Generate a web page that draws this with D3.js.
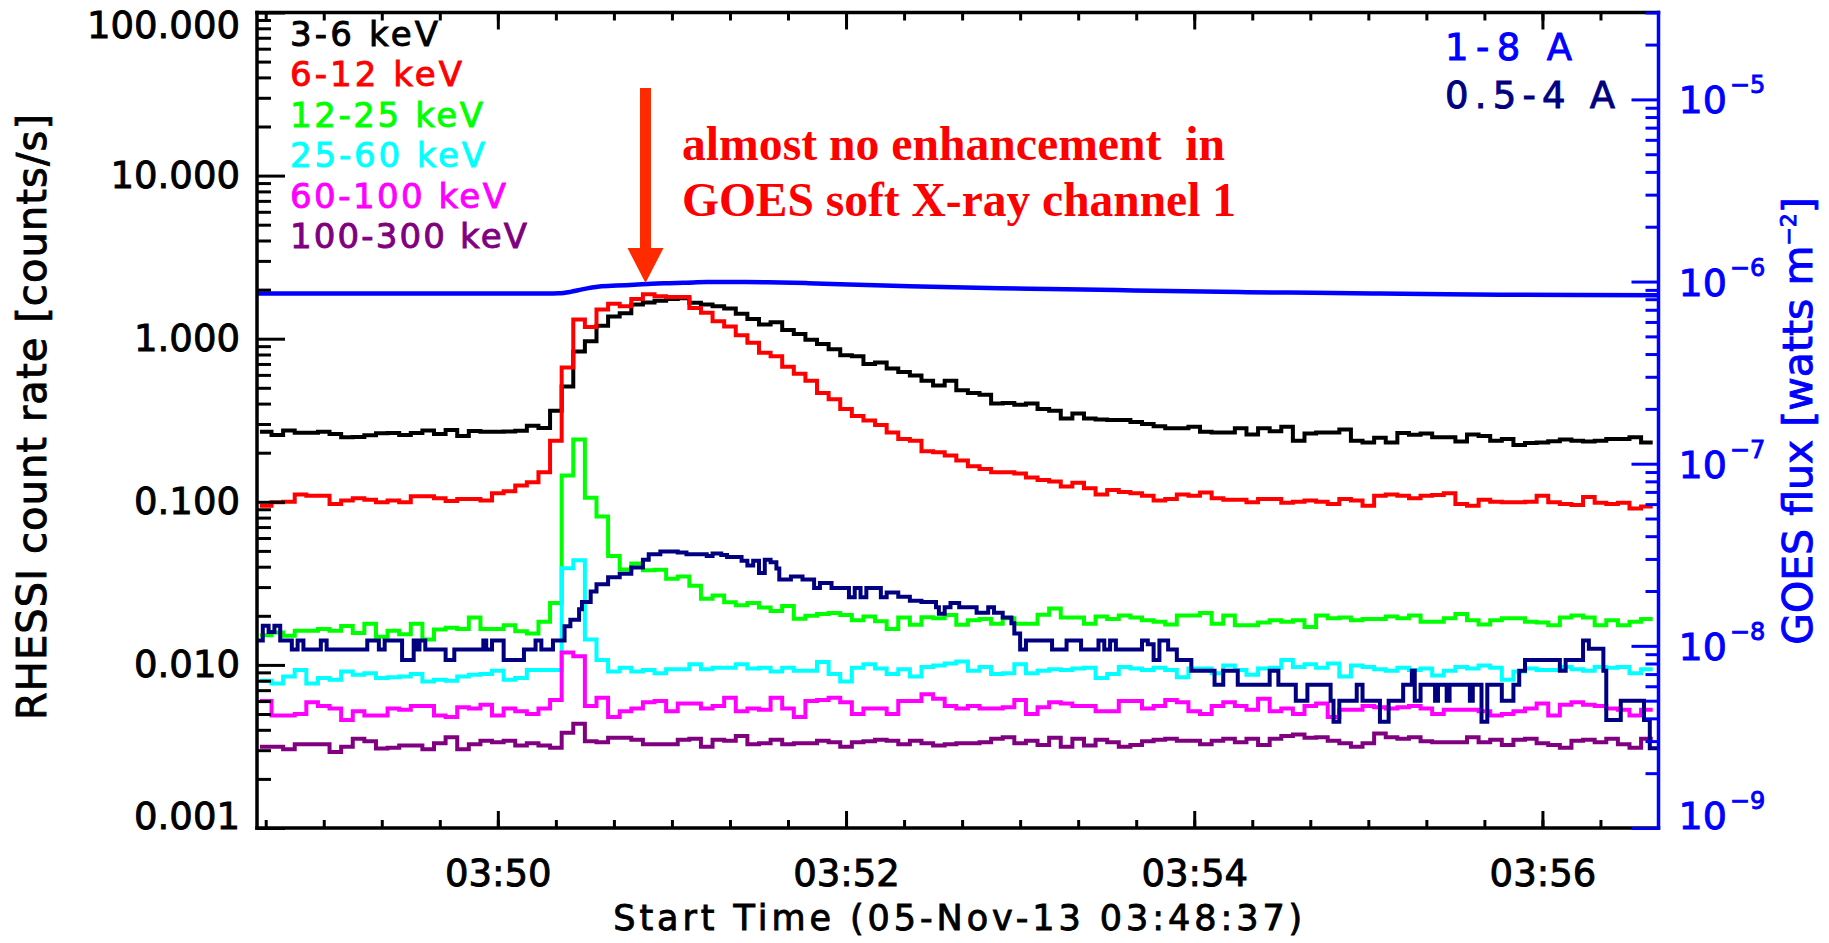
<!DOCTYPE html>
<html>
<head>
<meta charset="utf-8">
<script src="https://cdn.jsdelivr.net/npm/d3@7"></script>
<style>
  html, body { margin: 0; padding: 0; background: #ffffff; }
  svg { display: block; }
</style>
</head>
<body>
<svg id="chart" width="1829" height="943"></svg>
<script>
// ---------------------------------------------------------------------------
// RHESSI count rates (counts/s), 4-s bins, and GOES X-ray fluxes (W m^-2)
// 05-Nov-13, start 03:48:37 UT
// ---------------------------------------------------------------------------
const bandNames = ["3-6 keV", "6-12 keV", "12-25 keV", "25-60 keV", "60-100 keV", "100-300 keV"];
const goesNames = ["1-8 A", "0.5-4 A"];

const rate3to6 = [0.269,0.257,0.274,0.265,0.265,0.269,0.260,0.249,0.250,0.256,0.263,0.264,0.257,0.264,0.274,0.260,0.276,0.253,0.272,0.269,
  0.269,0.270,0.273,0.293,0.283,0.362,0.509,0.836,0.964,1.20,1.37,1.43,1.62,1.67,1.71,1.75,1.77,1.66,1.62,1.58,
  1.53,1.42,1.32,1.22,1.26,1.13,1.07,0.987,0.929,0.863,0.793,0.781,0.700,0.714,0.656,0.625,0.594,0.552,0.517,0.552,
  0.483,0.464,0.453,0.400,0.404,0.394,0.400,0.371,0.362,0.324,0.348,0.324,0.320,0.317,0.317,0.309,0.300,0.291,0.282,0.282,
  0.289,0.269,0.266,0.266,0.282,0.259,0.282,0.271,0.289,0.237,0.262,0.266,0.266,0.278,0.237,0.231,0.247,0.231,0.264,0.258,
  0.262,0.249,0.249,0.234,0.259,0.253,0.237,0.243,0.223,0.229,0.231,0.235,0.241,0.237,0.234,0.237,0.243,0.243,0.249,0.231];

const rate6to12 = [0.0946,0.0995,0.100,0.111,0.109,0.109,0.097,0.102,0.105,0.103,0.0995,0.102,0.0995,0.108,0.108,0.105,0.101,0.104,0.104,0.102,
  0.113,0.116,0.126,0.132,0.152,0.237,0.667,1.31,1.18,1.51,1.64,1.58,1.75,1.87,1.82,1.80,1.80,1.54,1.44,1.28,
  1.19,1.05,0.944,0.821,0.781,0.673,0.609,0.552,0.464,0.426,0.371,0.336,0.315,0.296,0.266,0.243,0.237,0.204,0.201,0.192,
  0.179,0.165,0.159,0.152,0.152,0.149,0.141,0.136,0.133,0.124,0.131,0.121,0.111,0.118,0.115,0.113,0.109,0.102,0.104,0.111,
  0.109,0.114,0.105,0.103,0.103,0.0995,0.104,0.104,0.0985,0.100,0.102,0.100,0.097,0.104,0.102,0.0946,0.109,0.111,0.109,0.105,
  0.109,0.110,0.113,0.097,0.0946,0.103,0.100,0.0995,0.0995,0.100,0.109,0.0995,0.097,0.0955,0.107,0.0985,0.097,0.0985,0.0909,0.0937];

const rate12to25 = [0.0152,0.0158,0.0151,0.0162,0.0162,0.0166,0.0162,0.0173,0.0157,0.0179,0.0149,0.0162,0.0154,0.0179,0.0143,0.0165,0.0169,0.0166,0.0195,0.0166,
  0.0166,0.0175,0.0161,0.0156,0.0184,0.0240,0.145,0.241,0.106,0.0812,0.0465,0.0385,0.0419,0.0381,0.0383,0.0337,0.0348,0.0306,0.0254,0.0266,
  0.0242,0.0232,0.0240,0.0225,0.0214,0.0230,0.0192,0.0200,0.0205,0.0208,0.0202,0.0188,0.0198,0.0185,0.0166,0.0195,0.0176,0.0196,0.0193,0.0202,
  0.0176,0.0188,0.0191,0.0179,0.0193,0.0179,0.0179,0.0203,0.0222,0.0195,0.0195,0.0179,0.0198,0.0191,0.0201,0.0195,0.0188,0.0184,0.0177,0.0201,
  0.0201,0.0208,0.0179,0.0201,0.0175,0.0175,0.0182,0.0188,0.0184,0.0188,0.0171,0.0201,0.0193,0.0195,0.0188,0.0191,0.0191,0.0198,0.0193,0.0201,
  0.0184,0.0184,0.0193,0.0205,0.0188,0.0177,0.0188,0.0193,0.0193,0.0184,0.0182,0.0175,0.0195,0.0201,0.0195,0.0175,0.0188,0.0175,0.0184,0.0191];

const rate25to60 = [0.0080,0.0077,0.0085,0.0093,0.0077,0.0083,0.0081,0.0091,0.0087,0.0089,0.0083,0.0084,0.0085,0.0088,0.0079,0.0081,0.0080,0.0085,0.0087,0.0088,
  0.0092,0.0081,0.0083,0.0093,0.0093,0.0093,0.0391,0.0438,0.0143,0.0107,0.0091,0.0096,0.0091,0.0093,0.0089,0.0094,0.0094,0.0101,0.0094,0.0096,
  0.0096,0.0101,0.0095,0.0096,0.0091,0.0096,0.0092,0.0092,0.0104,0.0088,0.0079,0.0096,0.0101,0.0095,0.0088,0.0094,0.0085,0.0097,0.0099,0.0102,
  0.0105,0.0092,0.0097,0.0088,0.0089,0.0101,0.0089,0.0092,0.0094,0.0093,0.0095,0.0096,0.0083,0.0088,0.0097,0.0095,0.0093,0.0096,0.0093,0.0084,
  0.0095,0.0095,0.0089,0.0099,0.0093,0.0087,0.0095,0.0096,0.0107,0.0097,0.0101,0.0096,0.0102,0.0085,0.0099,0.0097,0.0094,0.0092,0.0096,0.0093,
  0.0095,0.0086,0.0092,0.0097,0.0095,0.0099,0.0096,0.0081,0.0091,0.0095,0.0093,0.0093,0.0097,0.0094,0.0092,0.0097,0.0096,0.0097,0.0089,0.0094];

const rate60to100 = [0.0060,0.0049,0.0049,0.0050,0.0059,0.0056,0.0054,0.0046,0.0052,0.0049,0.0049,0.0054,0.0053,0.0056,0.0056,0.0049,0.0048,0.0055,0.0054,0.0057,
  0.0049,0.0054,0.0052,0.0050,0.0054,0.0061,0.0119,0.0113,0.0056,0.0063,0.0048,0.0052,0.0054,0.0059,0.0060,0.0052,0.0058,0.0058,0.0054,0.0056,
  0.0063,0.0052,0.0054,0.0053,0.0063,0.0054,0.0048,0.0060,0.0061,0.0063,0.0059,0.0050,0.0054,0.0054,0.0050,0.0060,0.0060,0.0066,0.0062,0.0056,
  0.0054,0.0056,0.0054,0.0054,0.0055,0.0061,0.0050,0.0055,0.0059,0.0058,0.0056,0.0056,0.0052,0.0052,0.0060,0.0060,0.0054,0.0056,0.0061,0.0059,
  0.0052,0.0050,0.0056,0.0059,0.0056,0.0053,0.0062,0.0052,0.0054,0.0050,0.0056,0.0058,0.0048,0.0053,0.0053,0.0056,0.0055,0.0054,0.0055,0.0056,
  0.0054,0.0050,0.0053,0.0053,0.0053,0.0052,0.0049,0.0050,0.0052,0.0054,0.0058,0.0049,0.0057,0.0059,0.0057,0.0056,0.0054,0.0053,0.0049,0.0053];

const rate100to300 = [0.00315,0.00315,0.00304,0.00326,0.00326,0.00326,0.00292,0.00315,0.00353,0.00340,0.00307,0.00310,0.00320,0.00320,0.00304,0.00331,0.00360,0.00304,0.00326,0.00343,
  0.00336,0.00343,0.00320,0.00331,0.00320,0.00310,0.00384,0.00435,0.00340,0.00336,0.00357,0.00357,0.00348,0.00326,0.00326,0.00326,0.00348,0.00353,0.00315,0.00348,
  0.00343,0.00366,0.00326,0.00331,0.00348,0.00326,0.00331,0.00331,0.00343,0.00336,0.00315,0.00336,0.00340,0.00348,0.00343,0.00326,0.00343,0.00331,0.00320,0.00326,
  0.00331,0.00331,0.00336,0.00353,0.00360,0.00331,0.00343,0.00323,0.00357,0.00315,0.00353,0.00320,0.00348,0.00336,0.00315,0.00323,0.00340,0.00348,0.00353,0.00343,
  0.00343,0.00326,0.00343,0.00353,0.00336,0.00353,0.00323,0.00353,0.00366,0.00375,0.00357,0.00360,0.00343,0.00331,0.00315,0.00331,0.00379,0.00360,0.00353,0.00360,
  0.00340,0.00336,0.00336,0.00336,0.00360,0.00336,0.00348,0.00323,0.00348,0.00353,0.00331,0.00323,0.00310,0.00343,0.00348,0.00336,0.00353,0.00326,0.00310,0.00353];

// GOES 1-8 A flux: seconds after 03:48:37, W m^-2
const goesLongSec = [0,50,100,104,108,112,118,124,130,136,142,148,155,165,176,190,204,222,240,256,273,296,320,341,364,387,410,433,456,483];
const goesLongFlux = [8.60e-7,8.60e-7,8.60e-7,8.62e-7,8.78e-7,9.06e-7,9.39e-7,9.51e-7,9.60e-7,9.73e-7,9.80e-7,9.86e-7,9.93e-7,9.95e-7,9.92e-7,
  9.80e-7,9.64e-7,9.46e-7,9.30e-7,9.20e-7,9.10e-7,8.98e-7,8.84e-7,8.74e-7,8.67e-7,8.59e-7,8.51e-7,8.47e-7,8.44e-7,8.40e-7];

// GOES 0.5-4 A flux: level changes (seconds after 03:48:37), W m^-2
const goesShortSec = [0,2,4,6,8,12,14,16,22,24,38,42,44,50,54,55,56,58,65,68,78,79,81,85,92,96,98,102,106,108,
  111,112,115,117,121,125,129,133,135,139,145,148,155,157,160,162,167,169,171,173,175,177,179,180,184,188,192,194,198,204,
  206,208,210,215,217,221,225,229,234,235,237,239,242,248,252,254,257,260,261,263,265,274,279,284,290,292,294,296,305,307,
  309,311,314,317,322,330,333,338,349,352,358,362,370,371,373,379,381,387,390,395,398,399,401,406,407,410,411,418,419,422,
  424,429,433,435,437,449,451,457,459,464,465,470,478,480];
const goesShortFlux = [1.07e-8,1.29e-8,1.19e-8,1.29e-8,1.07e-8,9.55e-9,1.07e-8,9.55e-9,1.07e-8,9.55e-9,1.07e-8,9.55e-9,1.07e-8,8.36e-9,1.07e-8,9.55e-9,1.07e-8,9.55e-9,8.36e-9,9.55e-9,
  1.07e-8,9.55e-9,1.07e-8,8.36e-9,9.55e-9,1.07e-8,9.55e-9,1.07e-8,1.28e-8,1.39e-8,
  1.59e-8,1.74e-8,1.99e-8,2.18e-8,2.38e-8,2.49e-8,2.69e-8,2.97e-8,3.18e-8,3.30e-8,3.25e-8,3.18e-8,3.11e-8,3.21e-8,3.15e-8,3.07e-8,2.93e-8,2.76e-8,2.93e-8,2.51e-8,
  2.97e-8,2.88e-8,2.66e-8,2.31e-8,2.40e-8,2.31e-8,2.08e-8,2.21e-8,2.08e-8,1.85e-8,
  2.08e-8,1.85e-8,2.08e-8,1.85e-8,1.96e-8,1.86e-8,1.77e-8,1.74e-8,1.63e-8,1.50e-8,1.63e-8,1.72e-8,1.63e-8,1.52e-8,1.63e-8,1.52e-8,1.43e-8,1.33e-8,1.17e-8,9.55e-9,
  1.07e-8,9.55e-9,1.07e-8,9.55e-9,1.07e-8,9.55e-9,1.07e-8,9.55e-9,1.07e-8,1.02e-8,
  8.36e-9,1.07e-8,9.55e-9,8.36e-9,7.31e-9,6.11e-9,7.31e-9,6.11e-9,7.31e-9,6.11e-9,5.00e-9,6.11e-9,5.00e-9,3.83e-9,5.00e-9,6.11e-9,5.00e-9,3.83e-9,5.00e-9,6.11e-9,
  7.31e-9,5.00e-9,6.11e-9,5.00e-9,6.11e-9,5.00e-9,6.11e-9,5.00e-9,6.11e-9,3.83e-9,
  6.11e-9,5.00e-9,6.11e-9,7.31e-9,8.36e-9,7.31e-9,8.36e-9,1.07e-8,9.64e-9,7.31e-9,3.92e-9,5.00e-9,3.92e-9,2.74e-9];

const countTicks = [0.001, 0.01, 0.1, 1, 10, 100];
const fluxTicks = [1e-9, 1e-8, 1e-7, 1e-6, 1e-5];
const fluxExponents = ["-9", "-8", "-7", "-6", "-5"];
const timeTickLabels = ["03:50", "03:52", "03:54", "03:56"];

const axisTitleX = "Start Time (05-Nov-13 03:48:37)";
const axisTitleLeft = "RHESSI count rate [counts/s]";
const noteLines = ["almost no enhancement  in", "GOES soft X-ray channel 1"];

// ---------------------------------------------------------------------------
// Layout and styling
// ---------------------------------------------------------------------------
const bandColors = ["#000000", "#ff0000", "#00ff00", "#00ffff", "#ff00ff", "#800080"];
const goesColors = ["#0000ff", "#000080"];
const FONT = "'DejaVu Sans', Verdana, sans-serif";
const TEXT_STROKE = 0.9;   // thickens the sans labels slightly
const box = { left: 257, right: 1658.5, top: 12.5, bottom: 828 };

const startMs = Date.UTC(2013, 10, 5, 3, 48, 37);
const spanSec = 483;
const binOffsetSec = 1, binSec = 4;
const sec = s => new Date(startMs + s * 1000);

const svg = d3.select("#chart");

const x = d3.scaleUtc().domain([sec(0), sec(spanSec)]).range([box.left, box.right]);
const y = d3.scaleLog().domain([0.001, 100]).range([box.bottom, box.top]);
const yFlux = d3.scaleLog().domain([1e-9, 3e-5]).range([box.bottom, box.top]);

svg.append("defs").append("clipPath").attr("id", "plotClip")
  .append("rect")
  .attr("x", box.left).attr("y", box.top)
  .attr("width", box.right - box.left).attr("height", box.bottom - box.top);

const plotArea = svg.append("g").attr("clip-path", "url(#plotClip)");

// RHESSI histograms
const rhessiSeries = [rate3to6, rate6to12, rate12to25, rate25to60, rate60to100, rate100to300];
const stepLine = d3.line().x(d => x(d[0])).y(d => y(d[1])).curve(d3.curveStepAfter);

rhessiSeries.forEach((vals, i) => {
  const pts = vals.map((v, k) => [sec(binOffsetSec + k * binSec), v]);
  pts.push([sec(binOffsetSec + vals.length * binSec), vals[vals.length - 1]]);
  plotArea.append("path")
    .datum(pts)
    .attr("d", stepLine)
    .attr("fill", "none")
    .attr("stroke", bandColors[i])
    .attr("stroke-width", 4)
    .attr("stroke-linejoin", "miter");
});

// GOES 1-8 A
const longPts = goesLongSec.map((s, i) => [sec(s), goesLongFlux[i]]);
plotArea.append("path")
  .datum(longPts)
  .attr("d", d3.line().x(d => x(d[0])).y(d => yFlux(d[1])).curve(d3.curveMonotoneX))
  .attr("fill", "none")
  .attr("stroke", goesColors[0])
  .attr("stroke-width", 4.5);

// GOES 0.5-4 A
const shortPts = goesShortSec.map((s, i) => [sec(s), goesShortFlux[i]]);
shortPts.push([sec(spanSec), goesShortFlux[goesShortFlux.length - 1]]);
plotArea.append("path")
  .datum(shortPts)
  .attr("d", d3.line().x(d => x(d[0])).y(d => yFlux(d[1])).curve(d3.curveStepAfter))
  .attr("fill", "none")
  .attr("stroke", goesColors[1])
  .attr("stroke-width", 4)
  .attr("stroke-linejoin", "miter");

// ---------------------------------------------------------------------------
// Frame and axes
// ---------------------------------------------------------------------------
const frame = svg.append("g").attr("stroke-width", 3.5).attr("stroke-linecap", "square");
frame.append("line").attr("x1", box.left).attr("x2", box.right).attr("y1", box.bottom).attr("y2", box.bottom).attr("stroke", "#000");
frame.append("line").attr("x1", box.left).attr("x2", box.right).attr("y1", box.top).attr("y2", box.top).attr("stroke", "#000");
frame.append("line").attr("x1", box.left).attr("x2", box.left).attr("y1", box.top).attr("y2", box.bottom).attr("stroke", "#000");

function styleAxis(g, color, width) {
  g.select(".domain").remove();
  g.attr("color", color);
  g.selectAll(".tick line").attr("stroke-width", width);
}
function styleLabels(sel, size) {
  sel.attr("font-family", FONT).attr("font-size", size)
     .attr("fill", "currentColor").attr("stroke", "currentColor").attr("stroke-width", TEXT_STROKE);
}

// time axis ticks
const majorTimes = timeTickLabels.map(s => {
  const [h, m] = s.split(":").map(Number);
  return new Date(Date.UTC(2013, 10, 5, h, m, 0));
});
const minorTimes = d3.utcSecond.every(20).range(sec(0), sec(spanSec));

svg.append("g").attr("transform", `translate(0,${box.bottom})`)
  .call(d3.axisBottom(x).tickValues(minorTimes).tickSize(-8).tickFormat(""))
  .call(g => styleAxis(g, "#000", 3));
svg.append("g").attr("transform", `translate(0,${box.bottom})`)
  .call(d3.axisBottom(x).tickValues(majorTimes).tickSize(-17).tickPadding(32)
        .tickFormat(d3.utcFormat("%H:%M")))
  .call(g => styleAxis(g, "#000", 3))
  .call(g => styleLabels(g.selectAll("text"), 37));

svg.append("g").attr("transform", `translate(0,${box.top})`)
  .call(d3.axisTop(x).tickValues(minorTimes).tickSize(-8).tickFormat(""))
  .call(g => styleAxis(g, "#000", 3));
svg.append("g").attr("transform", `translate(0,${box.top})`)
  .call(d3.axisTop(x).tickValues(majorTimes).tickSize(-17).tickFormat(""))
  .call(g => styleAxis(g, "#000", 3));

// count-rate axis
const countMinor = [];
countTicks.slice(0, -1).forEach(d => { for (let m = 2; m <= 9; m++) countMinor.push(d * m); });

svg.append("g").attr("transform", `translate(${box.left},0)`)
  .call(d3.axisLeft(y).tickValues(countMinor).tickSize(-14).tickFormat(""))
  .call(g => styleAxis(g, "#000", 3));
svg.append("g").attr("transform", `translate(${box.left},0)`)
  .call(d3.axisLeft(y).tickValues(countTicks).tickSize(-28).tickPadding(17).tickFormat(d3.format(".3f")))
  .call(g => styleAxis(g, "#000", 3))
  .call(g => styleLabels(g.selectAll("text"), 37))
  .call(g => g.selectAll("text").attr("y", d => d === 100 ? 13 : (d === 0.001 ? -11 : 0)));

// flux axis
const fluxMinor = [];
fluxTicks.forEach(d => { for (let m = 2; m <= 9; m++) { const v = d * m; if (v <= 3e-5 * 1.0001) fluxMinor.push(v); } });

frame.append("line").attr("x1", box.right).attr("x2", box.right).attr("y1", box.top).attr("y2", box.bottom).attr("stroke", "#0000ff");

svg.append("g").attr("transform", `translate(${box.right},0)`)
  .call(d3.axisRight(yFlux).tickValues(fluxMinor).tickSize(-13).tickFormat(""))
  .call(g => styleAxis(g, "#0000ff", 3));
svg.append("g").attr("transform", `translate(${box.right},0)`)
  .call(d3.axisRight(yFlux).tickValues(fluxTicks).tickSize(-27).tickFormat(""))
  .call(g => styleAxis(g, "#0000ff", 3));

const fluxLabels = svg.append("g").attr("font-family", FONT).attr("fill", "#0000ff")
  .attr("stroke", "#0000ff").attr("stroke-width", TEXT_STROKE);
fluxTicks.forEach((v, i) => {
  const base = v === 1e-9 ? box.bottom + 0.5 : yFlux(v) + 14;
  const t = fluxLabels.append("text").attr("x", box.right + 20).attr("y", base).attr("font-size", 38);
  t.append("tspan").text("10");
  t.append("tspan").attr("dx", 3).attr("dy", -20).attr("font-size", 24).text(fluxExponents[i].replace("-", "\u2212"));
});

// ---------------------------------------------------------------------------
// Titles
// ---------------------------------------------------------------------------
svg.append("text")
  .attr("x", (box.left + box.right) / 2).attr("y", 930)
  .attr("text-anchor", "middle")
  .attr("font-family", FONT).attr("font-size", 35)
  .attr("stroke", "#000").attr("stroke-width", TEXT_STROKE)
  .attr("textLength", 689).attr("lengthAdjust", "spacing")
  .text(axisTitleX);

svg.append("text")
  .attr("transform", "translate(46,417) rotate(-90)")
  .attr("text-anchor", "middle")
  .attr("font-family", FONT).attr("font-size", 40)
  .attr("stroke", "#000").attr("stroke-width", TEXT_STROKE)
  .attr("textLength", 606).attr("lengthAdjust", "spacing")
  .text(axisTitleLeft);

const rightTitle = svg.append("text")
  .attr("transform", "translate(1812,421) rotate(-90)")
  .attr("text-anchor", "middle")
  .attr("font-family", FONT).attr("font-size", 41)
  .attr("fill", "#0000ff").attr("stroke", "#0000ff").attr("stroke-width", TEXT_STROKE);
rightTitle.append("tspan").text("GOES flux [watts m");
rightTitle.append("tspan").attr("dy", -16).attr("font-size", 22).text("\u22122");
rightTitle.append("tspan").attr("dy", 16).text("]");

// ---------------------------------------------------------------------------
// Legends
// ---------------------------------------------------------------------------
const bandLegendWidths = [148, 172, 193, 195, 216, 237];
const bandLegend = svg.append("g").attr("font-family", FONT).attr("font-size", 34)
  .attr("stroke-width", TEXT_STROKE);
bandNames.forEach((name, i) => {
  bandLegend.append("text")
    .attr("x", 290).attr("y", 46 + i * 40.4)
    .attr("fill", bandColors[i]).attr("stroke", bandColors[i])
    .attr("textLength", bandLegendWidths[i]).attr("lengthAdjust", "spacing")
    .text(name);
});

const goesLegendWidths = [127, 170];
const goesLegend = svg.append("g").attr("font-family", FONT).attr("font-size", 37)
  .attr("stroke-width", TEXT_STROKE);
goesNames.forEach((name, i) => {
  goesLegend.append("text")
    .attr("x", 1445).attr("y", 60 + i * 48)
    .attr("fill", goesColors[i]).attr("stroke", goesColors[i])
    .attr("textLength", goesLegendWidths[i]).attr("lengthAdjust", "spacing")
    .text(name);
});

// ---------------------------------------------------------------------------
// Annotation: arrow and note
// ---------------------------------------------------------------------------
const arrowX = 645.5;
const arrow = svg.append("g").attr("fill", "#ff2a00");
arrow.append("rect").attr("x", arrowX - 5.5).attr("y", 88).attr("width", 11).attr("height", 162);
arrow.append("path").attr("d", `M${arrowX - 18},248 L${arrowX + 18},248 L${arrowX},283 Z`);

const note = svg.append("g")
  .attr("font-family", "'Liberation Serif', 'Times New Roman', serif")
  .attr("font-weight", "bold").attr("font-size", 48).attr("fill", "#ff0000");
note.append("text").attr("x", 682).attr("y", 160)
  .attr("textLength", 543).attr("lengthAdjust", "spacingAndGlyphs")
  .attr("xml:space", "preserve").style("white-space", "pre")
  .text(noteLines[0]);
note.append("text").attr("x", 682).attr("y", 216)
  .attr("textLength", 554).attr("lengthAdjust", "spacingAndGlyphs")
  .text(noteLines[1]);
</script>
</body>
</html>
